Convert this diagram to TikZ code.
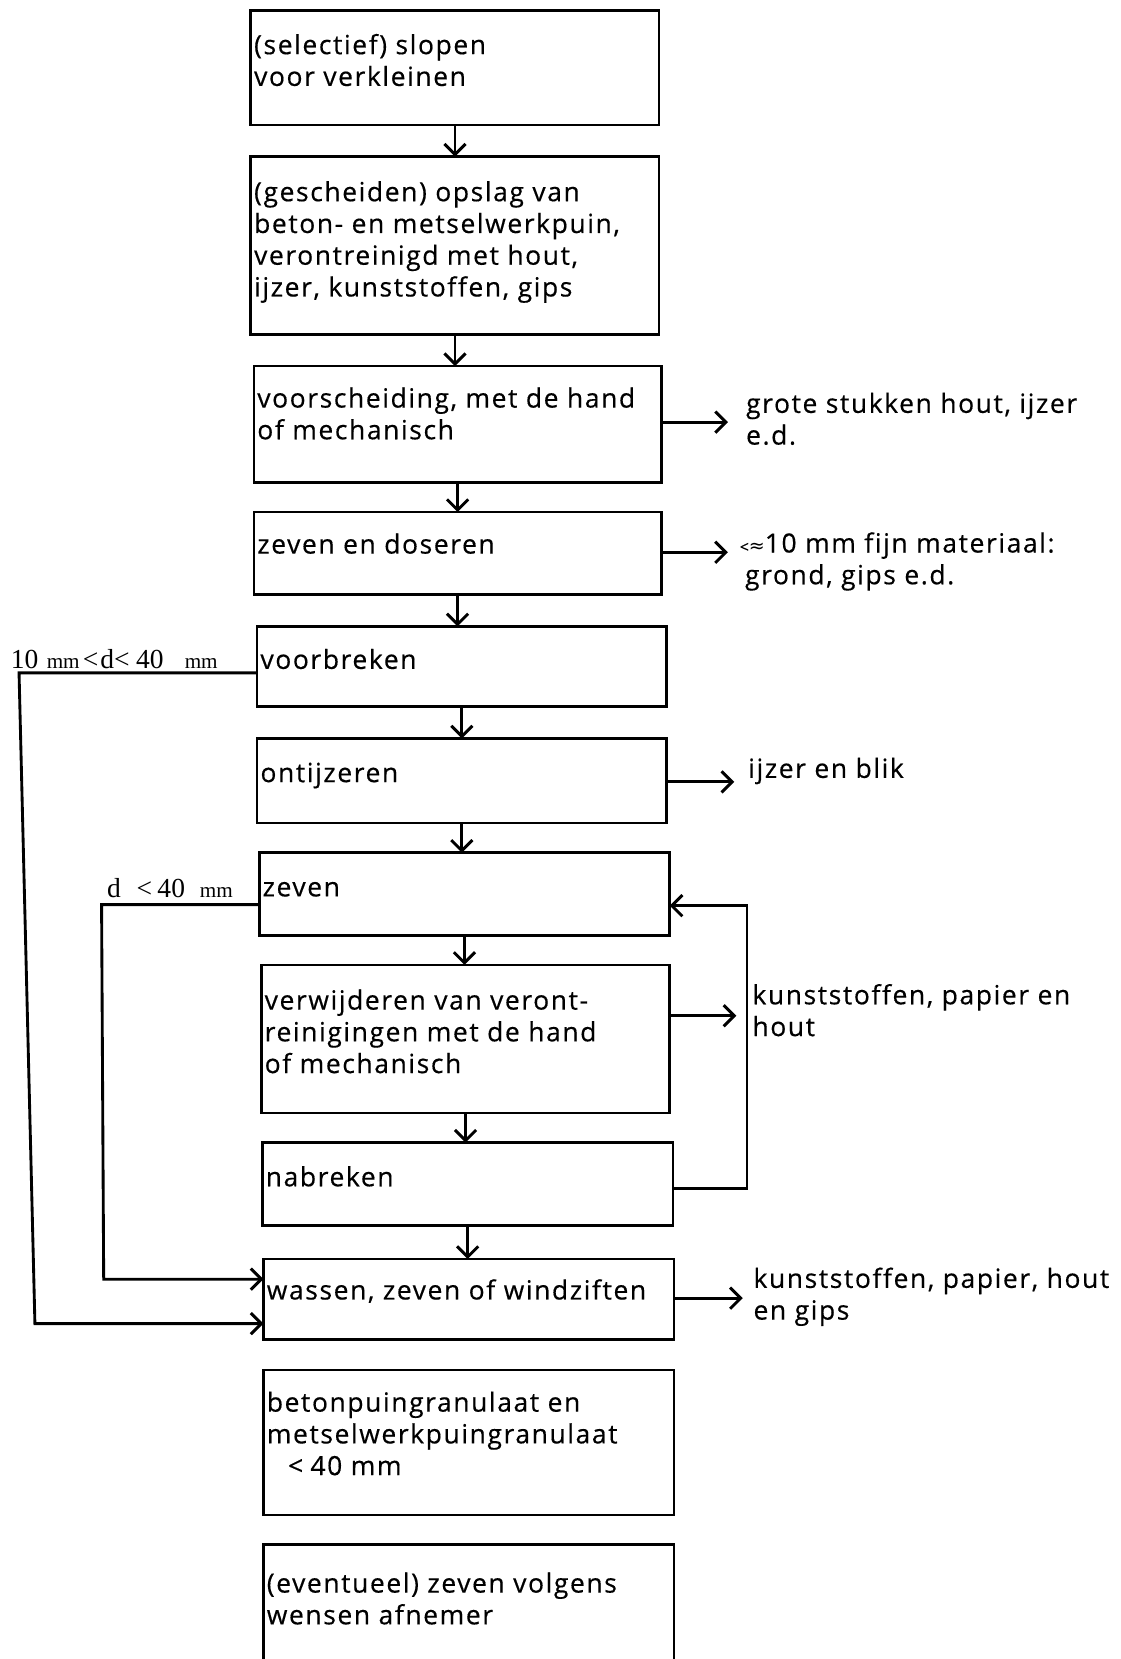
\documentclass[tikz,border=0pt]{standalone}
\usepackage{fontspec}
\setmainfont[LetterSpace=6,FakeBold=0.4,Ligatures=NoCommon]{Open Sans}
\newfontfamily\serifl{Liberation Serif}
\newfontfamily\dv{DejaVu Sans}
\usetikzlibrary{arrows.meta,calc}
\newcommand{\fl}{\rule{0pt}{20pt}}
\newcommand{\smm}{{\fontsize{20}{20}\selectfont mm}}
\begin{document}
\begin{tikzpicture}[x=1pt,y=-1pt,
  box/.style={draw,line width=2.5pt,inner sep=0pt,outer sep=0pt},
  conn/.style={line width=2.7pt},
  arr/.style={conn,-{Straight Barb[length=10pt,width=20pt,line width=2.8pt]}},
  txt/.style={anchor=north west,inner sep=0pt,align=left,font=\fontsize{25}{30}\selectfont},
  sidelab/.style={anchor=base west,inner sep=0pt,font=\serifl\fontsize{26}{26}\selectfont}]
\useasboundingbox (0,0) rectangle (1059,1568);
\clip (0,0) rectangle (1059,1568);
\fill[white] (0,0) rectangle (1059,1568);

% boxes
\node[box,minimum width=386pt,minimum height=108pt] (b1) at (430,64) {};
\node[box,minimum width=386pt,minimum height=168pt] (b2) at (430,232) {};
\node[box,minimum width=385pt,minimum height=110pt] (b3) at (432.5,401) {};
\node[box,minimum width=385pt,minimum height=78pt] (b4) at (432.5,523) {};
\node[box,minimum width=387pt,minimum height=76pt] (b5) at (436.5,630) {};
\node[box,minimum width=387pt,minimum height=80pt] (b6) at (436.5,738) {};
\node[box,minimum width=388pt,minimum height=78pt] (b7) at (439,845) {};
\node[box,minimum width=386pt,minimum height=140pt] (b8) at (440,982) {};
\node[box,minimum width=388pt,minimum height=78pt] (b9) at (442,1119) {};
\node[box,minimum width=388pt,minimum height=76pt] (b10) at (443,1228) {};
\node[box,minimum width=388pt,minimum height=137pt] (b11) at (443,1363.5) {};
\node[box,minimum width=388pt,minimum height=140pt] (b12) at (443,1530) {};

% box texts
\node[txt] (t1) at ($(b1.north west)+(3,21)$) {\fl(selectief) slopen\\voor verkleinen};
\node[txt] (t2) at ($(b2.north west)+(3,22)$) {\fl(gescheiden) opslag van\\beton- en metselwerkpuin,\\verontreinigd met hout,\\ijzer, kunststoffen, gips};
\node[txt] (t3) at ($(b3.north west)+(3,19)$) {\fl voorscheiding, met de hand\\of mechanisch};
\node[txt] (t4) at ($(b4.north west)+(3,19)$) {\fl zeven en doseren};
\node[txt] (t5) at ($(b5.north west)+(3,20)$) {\fl voorbreken};
\node[txt] (t6) at ($(b6.north west)+(3,21)$) {\fl ontijzeren};
\node[txt] (t7) at ($(b7.north west)+(3,21)$) {\fl zeven};
\node[txt] (t8) at ($(b8.north west)+(3,22)$) {\fl verwijderen van veront-\\reinigingen met de hand\\of mechanisch};
\node[txt] (t9) at ($(b9.north west)+(3,21)$) {\fl nabreken};
\node[txt] (t10) at ($(b10.north west)+(3,18)$) {\fl wassen, zeven of windziften};
\node[txt] (t11) at ($(b11.north west)+(3,19)$) {\fl betonpuingranulaat en\\metselwerkpuingranulaat\\\hspace*{20pt}<\;40 mm};
\node[txt] (t12) at ($(b12.north west)+(3,25)$) {\fl(eventueel) zeven volgens\\wensen afnemer};

% right labels
\node[txt] (l3) at (705,370) {\fl grote stukken hout, ijzer\\e.d.};
\node[txt] (l4) at (699,502) {\fl{\fontsize{15}{15}\selectfont<}{\dv\fontsize{18}{18}\selectfont≈}10 mm fijn materiaal:\\\hspace*{5pt}grond, gips e.d.};
\node[txt] (l6) at (707,715) {\fl ijzer en blik};
\node[txt] (l8) at (711,929) {\fl kunststoffen, papier en\\hout};
\node[txt] (l10) at (712,1197) {\fl kunststoffen, papier, hout\\en gips};

% left labels
\node[sidelab] (s1) at (10,632) {10\hspace{8pt}\smm\hspace{3pt}<\hspace{2pt}d<\hspace{6pt}40\hspace{20pt}\smm};
\node[sidelab] (s2) at (101,848) {d\hspace{15pt}<\hspace{5pt}40\hspace{14pt}\smm};

% main vertical flow
\foreach \a/\b in {b1/b2,b2/b3,b3/b4,b4/b5,b5/b6,b6/b7,b7/b8,b8/b9,b9/b10}
  \draw[arr] (\a.south) -- (\a.south |- \b.north);

% left bypasses
\coordinate (c1) at (18,636);
\coordinate (c2) at (33,1251);
\draw[arr] ([yshift=-6pt]b5.west) -- (c1) -- (c2) -- (c2 -| b10.west);
\coordinate (c3) at (96,855);
\coordinate (c4) at (98,1209);
\draw[arr] ([yshift=-10pt]b7.west) -- (c3) -- (c4) -- (c4 -| b10.west);

% right outputs
\coordinate (r3) at (688,399);
\draw[arr] (b3.east |- r3) -- (r3);
\coordinate (r4) at (688,522);
\draw[arr] (b4.east |- r4) -- (r4);
\coordinate (r6) at (694,739);
\draw[arr] (b6.east |- r6) -- (r6);
\coordinate (r8) at (696,960);
\draw[arr] (b8.east |- r8) -- (r8);
\coordinate (r10) at (702,1227);
\draw[arr] (b10.east |- r10) -- (r10);

% feedback loop
\coordinate (f1) at (706,1123);
\coordinate (f2) at (706,856);
\draw[arr] (b9.east |- f1) -- (f1) -- (f2) -- (f2 -| b7.east);
\end{tikzpicture}
\end{document}
